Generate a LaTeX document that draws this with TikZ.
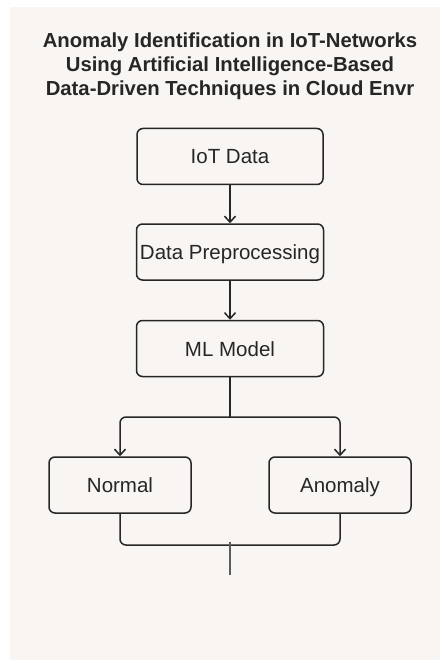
\documentclass[tikz,border=0pt]{standalone}
\usepackage{fontspec}
\setmainfont{Liberation Sans}
\usetikzlibrary{arrows.meta}
\definecolor{paper}{HTML}{F8F5F2}
\definecolor{ink}{HTML}{262626}

\begin{document}
\begin{tikzpicture}[x=1pt,y=-1pt,
    box/.style={draw=ink, line width=1.5pt, rounded corners=6pt, minimum height=56pt,
                inner sep=0pt, text=ink, text height=16pt, text depth=1pt,
                font=\fontsize{20.5}{22}\selectfont},
    link/.style={draw=ink, line width=1.5pt},
    >={Straight Barb[length=6pt,width=11pt,line width=1.5pt]}]
      \useasboundingbox (0,0) rectangle (440,660);
      \fill[white] (0,0) rectangle (440,660);
      \fill[paper] (10,7) rectangle (440,660);
      \node[text=ink, align=center, font=\fontsize{20.3}{24}\selectfont\bfseries] (title) at (230,66)
           {Anomaly Identification in IoT-Networks\\Using Artificial Intelligence-Based\\Data-Driven Techniques in Cloud Envr};
      \node[box, minimum width=186pt] (iot) at (230,156.5) {IoT Data};
      \node[box, minimum width=187pt] (prep) at (230,252) {Data Preprocessing};
      \node[box, minimum width=187pt] (ml) at (230,348.5) {ML Model};
      \node[box, minimum width=142pt] (normal) at (120,485) {Normal};
      \node[box, minimum width=142pt] (anomaly) at (340,485) {Anomaly};
      \coordinate (split) at (230,417);
      \coordinate (join) at (230,545);
      \coordinate (tail) at (230,575);
      \draw[link,->] (iot) -- (prep);
      \draw[link,->] (prep) -- (ml);
      \draw[link] (ml) -- (split);
      \draw[link,->,rounded corners=6pt] (split) -| (normal);
      \draw[link,->,rounded corners=6pt] (split) -| (anomaly);
      \draw[link,rounded corners=6pt] (normal) |- (join) -| (anomaly);
%      \draw[link] (join) -- (tail);
      \draw[link, draw=ink!75] ([yshift=3pt]join) -- (tail);
\end{tikzpicture}
\end{document}
